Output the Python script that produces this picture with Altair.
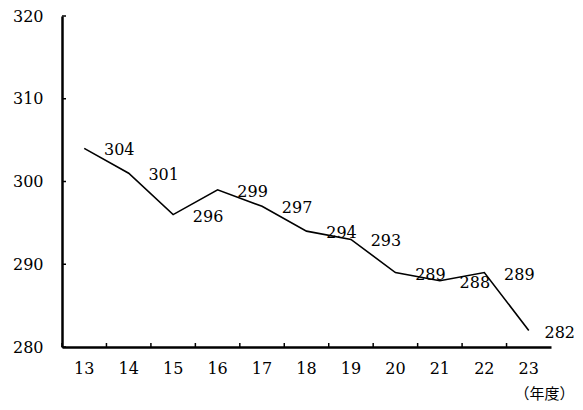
import altair as alt
import pandas as pd

years = ["13", "14", "15", "16", "17", "18", "19", "20", "21", "22", "23"]
values = [304, 301, 296, 299, 297, 294, 293, 289, 288, 289, 282]
labels = [str(v) for v in values]
y_ticks = [280, 290, 300, 310, 320]

df = pd.DataFrame({"year": years, "value": values, "label": labels})
df_yt = pd.DataFrame({"tick": y_ticks})

W, H = 489, 331
FONT = "DejaVu Serif"
CJK = "Noto Sans CJK JP"

xscale = alt.Scale(type="band", domain=years, paddingInner=0, paddingOuter=0)
yscale = alt.Scale(domain=[280, 320], nice=False, zero=False)

base = alt.Chart(df)

line = base.mark_line(color="black", strokeWidth=1.6).encode(
    x=alt.X(
        "year:O", scale=xscale, bandPosition=0.5,
        axis=alt.Axis(
            orient="bottom", title="（年度）", labelAngle=0, labelPadding=13,
            labelBaseline="top", ticks=False, domainWidth=2.5, domainColor="black",
            labelFont=FONT, labelFontSize=16, labelColor="black",
            titleFont=CJK, titleFontSize=15, titleFontWeight="normal", titleColor="black",
            titleAnchor="end", titleAlign="right", titleBaseline="middle",
            titleX=512, titleY=46,
        ),
    ),
    y=alt.Y(
        "value:Q", scale=yscale,
        axis=alt.Axis(
            values=y_ticks, ticks=False, grid=False, domainWidth=2.5, domainColor="black",
            labelPadding=19, labelFont=FONT, labelFontSize=16, labelColor="black", title=None,
        ),
    ),
)

text = base.transform_filter(alt.datum.year != "23").mark_text(
    font=FONT, fontSize=16, color="black", dx=35, dy=2, baseline="middle", align="center"
).encode(
    x=alt.X("year:O", scale=xscale, bandPosition=0.5),
    y=alt.Y("value:Q", scale=yscale),
    text="label:N",
)

text_last = base.transform_filter(alt.datum.year == "23").mark_text(
    font=FONT, fontSize=16, color="black", dx=31, dy=3, baseline="middle", align="center"
).encode(
    x=alt.X("year:O", scale=xscale, bandPosition=0.5),
    y=alt.Y("value:Q", scale=yscale),
    text="label:N",
)

xticks = base.mark_rule(color="black", strokeWidth=1.5).encode(
    x=alt.X("year:O", scale=xscale, bandPosition=0),
    y=alt.value(H),
    y2=alt.value(H - 4),
)

yticks = alt.Chart(df_yt).mark_rule(color="black", strokeWidth=1.5).encode(
    y=alt.Y("tick:Q", scale=yscale),
    x=alt.value(0),
    x2=alt.value(4),
)

chart = (
    alt.layer(line, text, text_last, xticks, yticks)
    .properties(
        width=W, height=H,
        autosize=alt.AutoSizeParams(type="none"),
        padding={"left": 54, "top": 8, "right": 24, "bottom": 55},
        background="white",
    )
    .configure_view(strokeWidth=0)
    .configure_axis(grid=False)
)

chart.save("out.html", embed_options={"renderer": "svg", "actions": False})
